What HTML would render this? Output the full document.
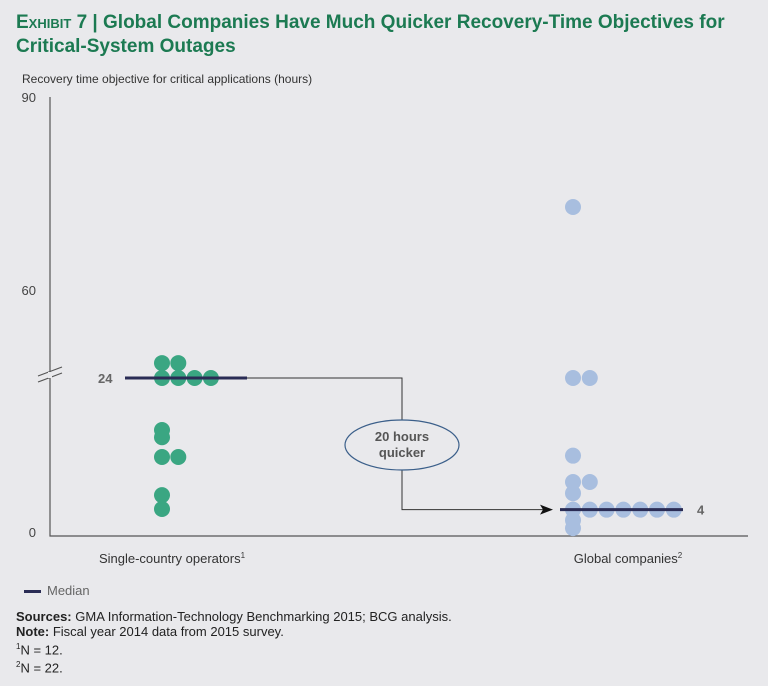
<!DOCTYPE html>
<html><head><meta charset="utf-8"><style>
body{margin:0;background:#e9e9ec;}
#c{position:relative;width:768px;height:686px;background:#e9e9ec;font-family:"Liberation Sans",sans-serif;overflow:hidden}
.t{position:absolute;white-space:nowrap}
</style></head><body>
<div id="c">
<div class="t" style="left:16px;top:11px;font-size:19px;font-weight:bold;color:#1c7a52;line-height:24px"><span style="font-variant:small-caps">Exhibit 7</span> | Global Companies Have Much Quicker Recovery-Time Objectives for<br>Critical-System Outages</div>
<div class="t" style="left:22px;top:72px;font-size:12px;color:#333">Recovery time objective for critical applications (hours)</div>
<svg width="768" height="686" style="position:absolute;left:0;top:0" id="s"></svg>
<div class="t" style="left:24px;top:583px;font-size:13px;color:#666"><span style="display:inline-block;width:17px;height:3px;background:#2a2c55;vertical-align:middle;margin-right:6px"></span>Median</div>
<div class="t" style="left:16px;top:609px;font-size:13px;color:#222;line-height:15px"><b>Sources:</b> GMA Information-Technology Benchmarking 2015; BCG analysis.<br><b>Note:</b> Fiscal year 2014 data from 2015 survey.<br><sup style="font-size:8px">1</sup>N = 12.<br><sup style="font-size:8px">2</sup>N = 22.</div>
</div>
<script>
const groups=["Single-country operators","Global companies"];
const groupSup=["1","2"];
const singleVals=[30.1,30.1,24,24,24,24,16.1,15.0,12.0,12.0,6.2,4.1];
const singleCols=[0,1,0,1,2,3,0,0,0,1,0,0];
const globalVals=[72.9,24,24,12.2,8.2,8.2,6.5,4,4,4,4,4,4,4,2.4,1.2];
const globalCols=[0,0,1,0,0,1,0,0,1,2,3,4,5,6,0,0];
const medians=[24,4];
const yTicks=[0,60,90];
const NS="http://www.w3.org/2000/svg";
const s=document.getElementById('s');
function y(v){if(v<=24)return 536-v*158/24;if(v<=60)return 378-(v-24)*88/36;return 290-(v-60)*193/30;}
const colX0=[162,573],colStep=[16.3,16.8],medX=[[125,247],[560,683]];
function el(t,a,p){const e=document.createElementNS(NS,t);for(const k in a)e.setAttribute(k,a[k]);(p||s).appendChild(e);return e;}
const ax=el('path',{d:'M50,97V536H748',stroke:'#555','stroke-width':1.2,fill:'none'});


const br=el('path',{d:'M38,376L62,367M38,382L62,373',stroke:'#555','stroke-width':1.2});


el('rect',{x:48,y:372,width:4,height:6,fill:'#e9e9ec'});
yTicks.forEach(v=>{const t=el('text',{x:36,y:Math.min(y(v)+5,537),'text-anchor':'end','font-size':13,fill:'#444'});t.textContent=v;

});
[[singleVals,singleCols,'#3aa682'],[globalVals,globalCols,'#a8bedf']].forEach((g,i)=>{
 g[0].forEach((v,j)=>{const c=el('circle',{cx:colX0[i]+g[1][j]*colStep[i],cy:y(v),r:8,fill:g[2]});
 
 });
 const lab=el('text',{x:i?628:172,y:563,'text-anchor':'middle','font-size':13,fill:'#333'});
 lab.textContent=groups[i];
 const sp=el('tspan',{'font-size':8,dy:-5},lab);sp.textContent=groupSup[i];
 
 
});
const m0=y(medians[0]),m1=y(medians[1]);
const conn=el('path',{d:`M247,${m0}H402V${m1}H548`,stroke:'#333','stroke-width':1,fill:'none'});


el('path',{d:`M540,${m1-5}L553,${m1}L540,${m1+5}L543,${m1}Z`,fill:'#111'});
medians.forEach((v,i)=>{const l=el('line',{x1:medX[i][0],x2:medX[i][1],y1:y(v),y2:y(v),stroke:'#2a2c55','stroke-width':3});


const t=el('text',{x:i?697:98,y:y(v)+5,'font-size':13,'font-weight':'bold',fill:'#666'});t.textContent=v;

});
const e=el('ellipse',{cx:402,cy:445,rx:57,ry:25,fill:'#e9e9ec',stroke:'#3b5f8a','stroke-width':1.2});


['20 hours','quicker'].forEach((w,k)=>{const t=el('text',{x:402,y:441+k*16,'text-anchor':'middle','font-size':13,'font-weight':'bold',fill:'#555'});t.textContent=w;});
</script>
</body></html>
